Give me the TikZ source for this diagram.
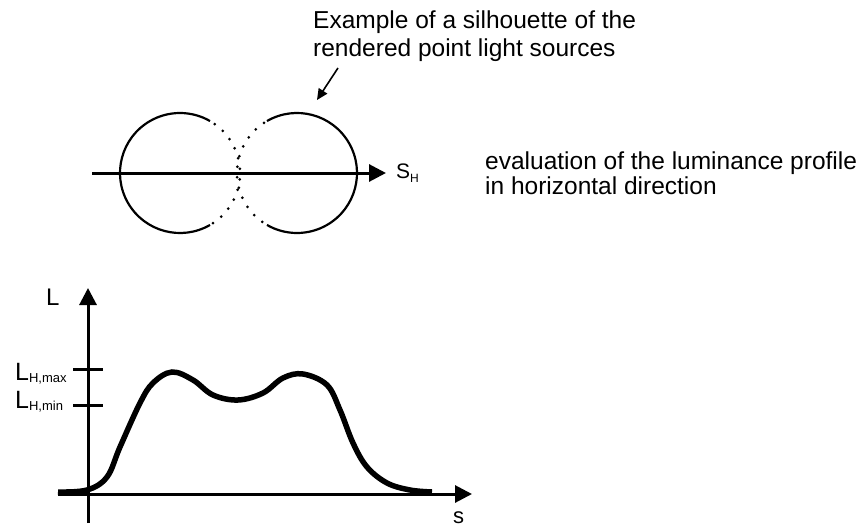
\documentclass[tikz,border=0pt]{standalone}
\usepackage{fontspec}
\setmainfont{Liberation Sans}
\usetikzlibrary{arrows.meta}
\tikzset{
  solidtip/.style={-{Triangle[length=17pt,width=17pt]}},
  ring/.style={line width=2.2pt},
  dotring/.style={line width=3pt,line cap=round,dash pattern=on 0pt off 10.6pt,dash phase=5pt},
  axisline/.style={line width=3pt},
}
\begin{document}
\begin{tikzpicture}[x=1pt,y=-1pt,every node/.style={inner sep=0pt,font=\fontsize{24.5}{28}\selectfont}]
\useasboundingbox (0,0) rectangle (868,527);
% silhouette of two point light sources
\node[align=left,anchor=north west] (note) at (313,11) {Example of a silhouette of the\\rendered point light sources};
\coordinate (ntail) at (338,68); \coordinate (nhead) at (317,100);
\draw[-{Triangle[length=11pt,width=10pt]},line width=1.6pt] (ntail)--(nhead);
\coordinate (lc) at (180,173); \coordinate (rc) at (297,173);
\draw[ring] ([shift={(60:60)}]lc) arc[start angle=60,end angle=300,radius=60];
\draw[ring] ([shift={(-120:60)}]rc) arc[start angle=-120,end angle=120,radius=60];
\draw[dotring] ([shift={(-60:60)}]lc) arc[start angle=-60,end angle=60,radius=60];
\draw[dotring] ([shift={(120:60)}]rc) arc[start angle=120,end angle=240,radius=60];
\coordinate (hl) at (92,173); \coordinate (hr) at (386,173);
\draw[axisline,solidtip] (hl)--(hr);
\node[anchor=base west] (sh) at (396,178) {\fontsize{21}{21}\selectfont S\raisebox{-4pt}{\fontsize{12}{12}\selectfont H}};
\node[align=left,anchor=north west] (eval) at (485,152) {evaluation of the luminance profile\\[-3pt]in horizontal direction};
% luminance profile
\coordinate (yb) at (88,523); \coordinate (yt) at (88,288);
\coordinate (xl) at (58,494); \coordinate (xr) at (472,494);
\draw[axisline,solidtip] (yb)--(yt);
\draw[axisline,solidtip] (xl)--(xr);
\node[anchor=base west] (lab) at (46,305) {\fontsize{24}{24}\selectfont L};
\node[anchor=base west] (sab) at (453,523) {\fontsize{22}{22}\selectfont s};
\coordinate (maxl) at (73,369); \coordinate (maxr) at (103,369);
\coordinate (minl) at (73,405); \coordinate (minr) at (103,405);
\draw[axisline] (maxl)--(maxr);
\draw[axisline] (minl)--(minr);
\node[anchor=base west] (lmax) at (15,380) {\fontsize{25}{25}\selectfont L\raisebox{-2.5pt}{\fontsize{13}{13}\selectfont H,max}};
\node[anchor=base west] (lmin) at (15,408) {\fontsize{25}{25}\selectfont L\raisebox{-2.5pt}{\fontsize{13}{13}\selectfont H,min}};
\draw[line width=5.5pt] plot[smooth,tension=0.6] coordinates {(58,492) (87,490) (107,477) (120,447) (140,403) (153,383) (172,372) (193,380) (213,395) (238,400) (263,393) (283,378) (303,374) (327,385) (340,410) (353,443) (367,467) (387,483) (410,490) (432,492)};
\end{tikzpicture}
\end{document}
